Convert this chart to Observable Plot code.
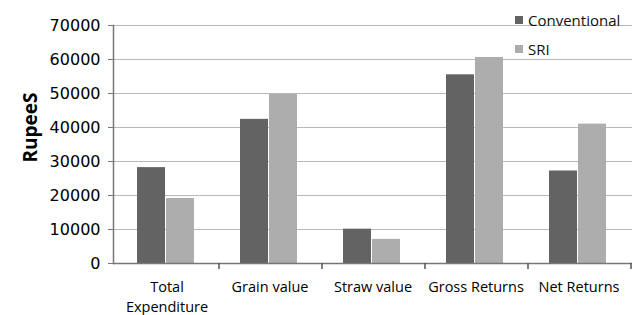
<!DOCTYPE html>
<html><head><meta charset="utf-8">
<script src="https://cdn.jsdelivr.net/npm/d3@7"></script>
<script src="https://cdn.jsdelivr.net/npm/@observablehq/plot@0.6"></script>
<style>
body{margin:0;background:#fff;}
#wrap{position:relative;width:638px;height:315px;}
.legend{position:absolute;left:515px;font-family:"Open Sans";font-size:15px;font-weight:500;color:#111;display:flex;align-items:center;height:20px;}
.sw{width:8px;height:8px;margin-right:5px;}
</style></head><body>
<div id="wrap"></div>
<script>
const categories = ["Total\nExpenditure", "Grain value", "Straw value", "Gross Returns", "Net Returns"];
const series = ["Conventional", "SRI"];
const conventional = [28200, 42400, 10100, 55500, 27200];
const sri = [19100, 49700, 7100, 60600, 41000];
const yTicks = [0, 10000, 20000, 30000, 40000, 50000, 60000, 70000];
const yTitle = "RupeeS";
const colors = ["#636363", "#adadad"];

const convData = categories.map((c, i) => ({category: c, value: conventional[i]}));
const sriData = categories.map((c, i) => ({category: c, value: sri[i]}));

const chart = Plot.plot({
  width: 638, height: 315,
  marginLeft: 113, marginRight: 6, marginTop: 25, marginBottom: 52,
  style: {fontFamily: "DejaVu Sans", background: "white", color: "#000"},
  x: {domain: categories, padding: 0},
  y: {domain: [0, 70000]},
  marks: [
    Plot.gridY(yTicks, {stroke: "#b8b8b8", strokeOpacity: 1}),
    Plot.barY(convData, {x: "category", y: "value", fill: colors[0], insetLeft: 22, insetRight: 53}),
    Plot.barY(sriData, {x: "category", y: "value", fill: colors[1], insetLeft: 51, insetRight: 24}),
    Plot.ruleY([0], {stroke: "#777", strokeWidth: 1.5}),
    Plot.frame({anchor: "left", stroke: "#777", strokeWidth: 1.5}),
    Plot.ruleX(categories, {x: d => d, y1: 0, y2: 0, insetBottom: -6, dx: 52, stroke: "#555", strokeWidth: 1.5}),
    Plot.axisY(yTicks, {tickSize: 5, tickPadding: 8, fontSize: 16, label: null, stroke: "#777", tickFormat: d => String(d)}),
    Plot.axisX({tickSize: 0, tickPadding: 14, fontSize: 14.5, fontWeight: 500, fontFamily: "Open Sans", label: null, lineHeight: 1.4}),
    Plot.text([yTitle], {frameAnchor: "left", textAnchor: "middle", rotate: -90, dx: -83, dy: -17, fontSize: 19, fontWeight: "bold", fontFamily: "Open Sans"})
  ]
});
const wrap = document.getElementById("wrap");
wrap.appendChild(chart);
series.forEach((s, i) => {
  const d = document.createElement("div");
  d.className = "legend";
  d.style.top = (10 + i * 29) + "px";
  d.innerHTML = `<div class="sw" style="background:${colors[i]}"></div><span>${s}</span>`;
  wrap.appendChild(d);
});
</script>
</body></html>
